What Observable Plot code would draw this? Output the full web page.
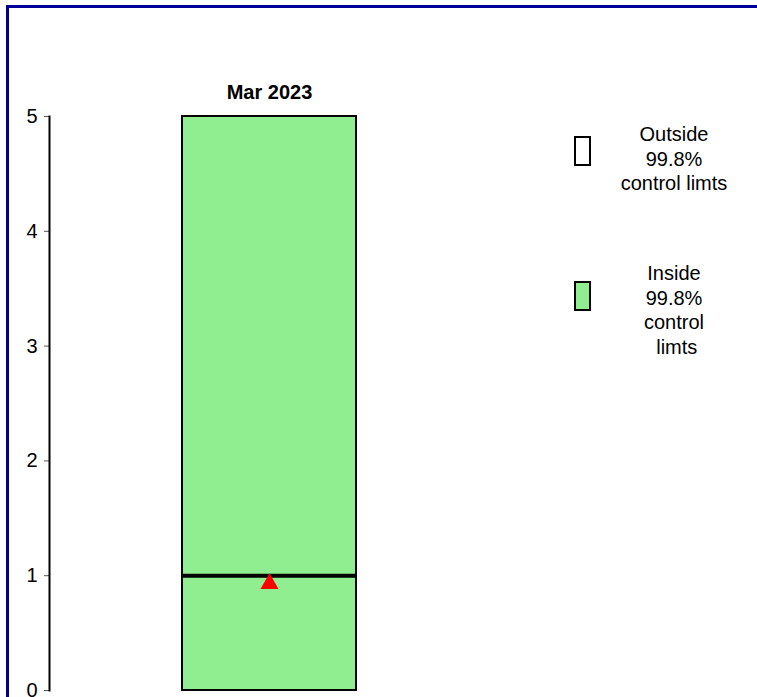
<!DOCTYPE html>
<html>
<head>
<meta charset="utf-8">
<script src="https://cdn.jsdelivr.net/npm/d3@7"></script>
<script src="https://cdn.jsdelivr.net/npm/@observablehq/plot@0.6"></script>
<style>
  html, body { margin: 0; padding: 0; background: #fff; }
  #wrap { position: relative; width: 757px; height: 697px; overflow: hidden; font-family: "Liberation Sans", Arial, sans-serif; }
  #border { position: absolute; left: 6px; top: 5px; width: 800px; height: 800px; border-top: 3px solid #000099; border-left: 3px solid #000099; }
  #chart { position: absolute; left: 0; top: 0; }
  .sw { position: absolute; width: 13px; height: 26px; border: 2px solid #000; }
  .lt { position: absolute; width: 160px; text-align: center; font-size: 20px; line-height: 24.5px; color: #000; white-space: pre; }
</style>
</head>
<body>
<div id="wrap">
  <div id="border"></div>
  <div id="chart"></div>
  <div id="legend"></div>
</div>
<script>
const periods = ["Mar 2023"];
const lowerLimit = [0];
const upperLimit = [5];
const meanValue = [1];
const observed = [0.93];
const yTicks = [0, 1, 2, 3, 4, 5];
const legendLabels = ["Outside\n99.8%\ncontrol limts", "Inside\n99.8%\ncontrol\n limts"];
const legendFills = ["#ffffff", "#90EE90"];

const rows = periods.map((p, i) => ({period: p, lo: lowerLimit[i], hi: upperLimit[i], mean: meanValue[i], obs: observed[i]}));

const chart = Plot.plot({
  width: 757,
  height: 697,
  marginTop: 116,
  marginBottom: 7,
  marginLeft: 49,
  marginRight: 0,
  style: {fontFamily: "Liberation Sans, Arial, sans-serif", fontSize: "20px", color: "#000", background: "transparent", overflow: "visible"},
  x: {domain: periods, range: [182, 356], padding: 0, axis: null},
  y: {domain: [0, 5], axis: null},
  marks: [
    Plot.barY(rows, {x: "period", y1: "lo", y2: "hi", fill: "#90EE90", stroke: "#000", strokeWidth: 2, inset: 0}),
    Plot.tickY(rows, {x: "period", y: "mean", stroke: "#000", strokeWidth: 4}),
    Plot.dot(rows, {x: "period", y: "obs", symbol: "triangle", r: 6.7, fill: "red", stroke: "none"}),
    Plot.axisX({anchor: "top", tickSize: 0, tickPadding: 18, fontWeight: "bold", fontSize: 20, label: null}),
    Plot.axisY({ticks: yTicks, tickFormat: d3.format("d"), tickSize: 5, tickPadding: 7, stroke: "#555", label: null, fontSize: 20}),
    Plot.frame({anchor: "left", stroke: "#000", strokeWidth: 2})
  ]
});
document.getElementById("chart").appendChild(chart);

const leg = document.getElementById("legend");
const swTops = [136, 281];
const txtTops = [122, 261];
legendLabels.forEach((lab, i) => {
  const sw = document.createElement("div");
  sw.className = "sw";
  sw.style.left = "574px";
  sw.style.top = swTops[i] + "px";
  sw.style.background = legendFills[i];
  leg.appendChild(sw);
  const t = document.createElement("div");
  t.className = "lt";
  t.style.left = (674 - 80) + "px";
  t.style.top = txtTops[i] + "px";
  t.textContent = lab;
  leg.appendChild(t);
});
</script>
</body>
</html>
